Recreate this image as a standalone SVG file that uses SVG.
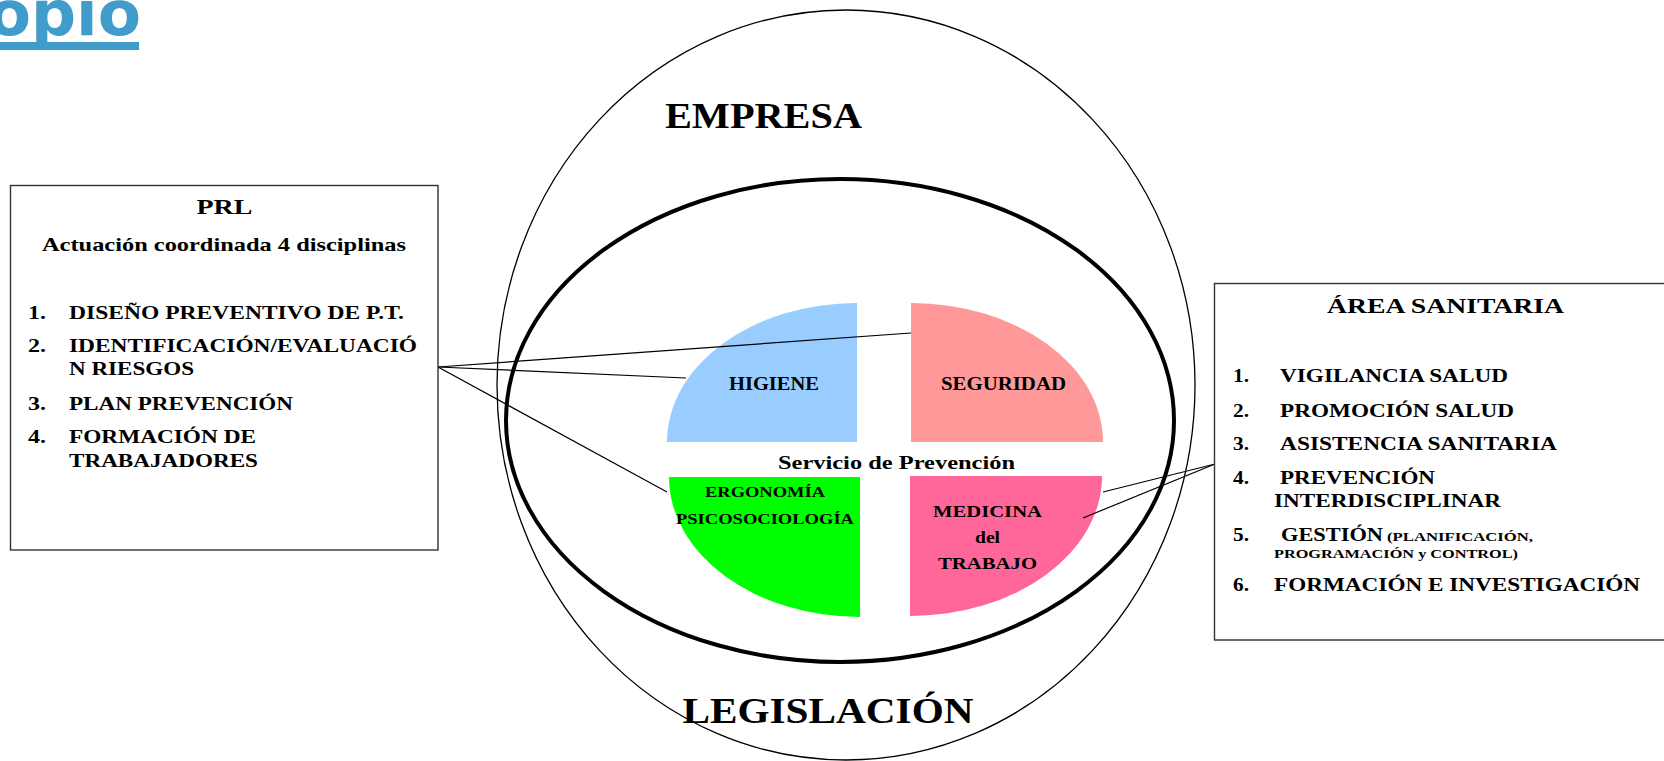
<svg xmlns="http://www.w3.org/2000/svg" width="1664" height="761" viewBox="0 0 1664 761">
<style>
.t{font-family:"Liberation Serif","Times New Roman",serif;font-weight:bold;fill:#000}
.m{text-anchor:middle}
.box{fill:#fff;stroke:#333;stroke-width:1.4}
.ln{stroke:#000;stroke-width:1.2;fill:none}
</style>
<rect width="1664" height="761" fill="#fff"/>
<g id="title">
<text x="141" y="35" text-anchor="end" font-family="DejaVu Sans, sans-serif" font-weight="bold" font-size="63" fill="#409CCB">opio</text>
<rect x="0" y="42" width="139" height="8" fill="#409CCB"/>
</g>
<g id="empresa">
<ellipse cx="846" cy="385" rx="349" ry="375" fill="none" stroke="#000" stroke-width="1.3"/>
<text class="t m" x="763.5" y="128" font-size="35" textLength="197" lengthAdjust="spacingAndGlyphs">EMPRESA</text>
<text class="t m" x="828" y="723" font-size="35" textLength="291" lengthAdjust="spacingAndGlyphs">LEGISLACIÓN</text>
</g>
<g id="servicio">
<ellipse cx="840" cy="420.5" rx="334" ry="241.5" fill="none" stroke="#000" stroke-width="4"/>
</g>
<g id="higiene">
<path d="M857,303 L857,442 L667,442 A190,139 0 0 1 857,303 Z" fill="#99CCFF"/>
<text class="t m" x="774" y="390" font-size="18" textLength="90" lengthAdjust="spacingAndGlyphs">HIGIENE</text>
</g>
<g id="seguridad">
<path d="M911,303 L911,442 L1103,442 A192,139 0 0 0 911,303 Z" fill="#FF9999"/>
<text class="t m" x="1003.5" y="390" font-size="18" textLength="125" lengthAdjust="spacingAndGlyphs">SEGURIDAD</text>
</g>
<g id="ergonomia">
<path d="M860,477 L669,477 A191,140 0 0 0 860,617 Z" fill="#00FF00"/>
<text class="t m" x="765" y="497" font-size="15" textLength="120" lengthAdjust="spacingAndGlyphs">ERGONOMÍA</text>
<text class="t m" x="765" y="524" font-size="15" textLength="178" lengthAdjust="spacingAndGlyphs">PSICOSOCIOLOGÍA</text>
</g>
<g id="medicina">
<path d="M910,476 L1102,476 A192,140 0 0 1 910,616 Z" fill="#FF6699"/>
<text class="t m" x="987.5" y="517" font-size="17" textLength="109" lengthAdjust="spacingAndGlyphs">MEDICINA</text>
<text class="t m" x="987.5" y="543" font-size="17" textLength="25" lengthAdjust="spacingAndGlyphs">del</text>
<text class="t m" x="987.5" y="569" font-size="17" textLength="99" lengthAdjust="spacingAndGlyphs">TRABAJO</text>
</g>
<g id="servicio-label">
<text class="t m" x="896.5" y="469" font-size="19" textLength="237" lengthAdjust="spacingAndGlyphs">Servicio de Prevención</text>
</g>
<g id="connectors">
<line class="ln" x1="438" y1="367" x2="911" y2="333"/>
<line class="ln" x1="438" y1="367" x2="686" y2="378"/>
<line class="ln" x1="438" y1="367" x2="667" y2="492"/>
<line class="ln" x1="1215" y1="464" x2="1103" y2="492"/>
<line class="ln" x1="1215" y1="464" x2="1083" y2="518"/>
</g>
<g id="prl">
<rect class="box" x="10.5" y="185.5" width="427.5" height="364.5"/>
<text class="t m" x="224.5" y="214" font-size="22" textLength="56" lengthAdjust="spacingAndGlyphs">PRL</text>
<text class="t m" x="224" y="251" font-size="19" textLength="364" lengthAdjust="spacingAndGlyphs">Actuación coordinada 4 disciplinas</text>
<g font-size="18">
<text class="t" x="28" y="319" textLength="18" lengthAdjust="spacingAndGlyphs">1.</text>
<text class="t" x="69" y="319" textLength="335" lengthAdjust="spacingAndGlyphs">DISEÑO PREVENTIVO DE P.T.</text>
<text class="t" x="28" y="352" textLength="18" lengthAdjust="spacingAndGlyphs">2.</text>
<text class="t" x="69" y="352" textLength="348" lengthAdjust="spacingAndGlyphs">IDENTIFICACIÓN/EVALUACIÓ</text>
<text class="t" x="69" y="375" textLength="125" lengthAdjust="spacingAndGlyphs">N RIESGOS</text>
<text class="t" x="28" y="410" textLength="18" lengthAdjust="spacingAndGlyphs">3.</text>
<text class="t" x="69" y="410" textLength="224" lengthAdjust="spacingAndGlyphs">PLAN PREVENCIÓN</text>
<text class="t" x="28" y="443" textLength="18" lengthAdjust="spacingAndGlyphs">4.</text>
<text class="t" x="69" y="443" textLength="187" lengthAdjust="spacingAndGlyphs">FORMACIÓN DE</text>
<text class="t" x="69" y="467" textLength="189" lengthAdjust="spacingAndGlyphs">TRABAJADORES</text>
</g>
</g>
<g id="area-sanitaria">
<rect class="box" x="1214.5" y="283.5" width="480" height="356.5"/>
<text class="t m" x="1445.5" y="313" font-size="20" textLength="237" lengthAdjust="spacingAndGlyphs">ÁREA SANITARIA</text>
<g font-size="18">
<text class="t" x="1233" y="382" textLength="16" lengthAdjust="spacingAndGlyphs">1.</text>
<text class="t" x="1280" y="382" textLength="228" lengthAdjust="spacingAndGlyphs">VIGILANCIA SALUD</text>
<text class="t" x="1233" y="417" textLength="16" lengthAdjust="spacingAndGlyphs">2.</text>
<text class="t" x="1280" y="417" textLength="234" lengthAdjust="spacingAndGlyphs">PROMOCIÓN SALUD</text>
<text class="t" x="1233" y="450" textLength="16" lengthAdjust="spacingAndGlyphs">3.</text>
<text class="t" x="1280" y="450" textLength="277" lengthAdjust="spacingAndGlyphs">ASISTENCIA SANITARIA</text>
<text class="t" x="1233" y="484" textLength="16" lengthAdjust="spacingAndGlyphs">4.</text>
<text class="t" x="1280" y="484" textLength="155" lengthAdjust="spacingAndGlyphs">PREVENCIÓN</text>
<text class="t" x="1274" y="507" textLength="227" lengthAdjust="spacingAndGlyphs">INTERDISCIPLINAR</text>
<text class="t" x="1233" y="541" textLength="16" lengthAdjust="spacingAndGlyphs">5.</text>
<text class="t" x="1281" y="541" textLength="102" lengthAdjust="spacingAndGlyphs">GESTIÓN</text>
<text class="t" x="1387" y="541" font-size="11.5" textLength="146" lengthAdjust="spacingAndGlyphs">(PLANIFICACIÓN,</text>
<text class="t" x="1274" y="558" font-size="11.5" textLength="244" lengthAdjust="spacingAndGlyphs">PROGRAMACIÓN y CONTROL)</text>
<text class="t" x="1233" y="591" textLength="16" lengthAdjust="spacingAndGlyphs">6.</text>
<text class="t" x="1274" y="591" textLength="366" lengthAdjust="spacingAndGlyphs">FORMACIÓN E INVESTIGACIÓN</text>
</g>
</g>
</svg>
